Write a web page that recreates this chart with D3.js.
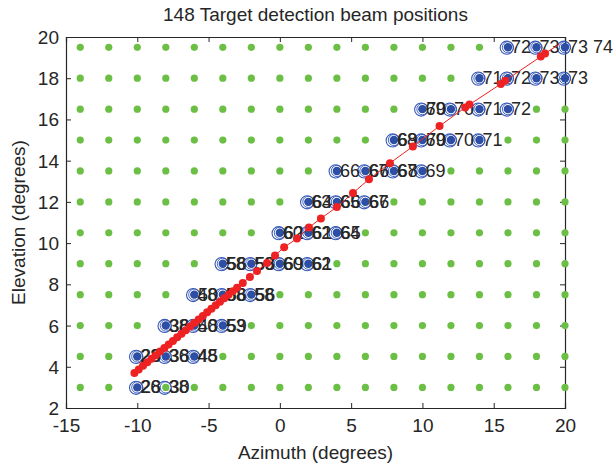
<!DOCTYPE html>
<html>
<head>
<meta charset="utf-8">
<script src="https://cdn.jsdelivr.net/npm/d3@7"></script>
<style>
  body { margin: 0; background: #fff; }
  svg { font-family: "Liberation Sans", Arial, sans-serif; }
</style>
</head>
<body>
<svg id="chart" width="616" height="466"></svg>
<script>
// grid of candidate beam positions (green)
const gridAz = [-14, -12, -10, -8, -6, -4, -2, 0, 2, 4, 6, 8, 10, 12, 14, 16, 18, 20];
const gridEl = [3, 4.5, 6, 7.5, 9, 10.5, 12, 13.5, 15, 16.5, 18, 19.5];

// detection beam positions (blue) and their overlapping labels
const beamAz = [-10, -8, -10, -8, -6, -8, -6, -4, -6, -4, -2, -4, -2, 0, 2,
  0, 2, 4, 2, 4, 6, 4, 6, 8, 10, 8, 10, 12, 14, 10, 12, 14, 16, 14, 16, 18, 20, 16, 18, 20];
const beamEl = [3, 3, 4.5, 4.5, 4.5, 6, 6, 6, 7.5, 7.5, 7.5, 9, 9, 9, 9,
  10.5, 10.5, 10.5, 12, 12, 12, 13.5, 13.5, 13.5, 13.5, 15, 15, 15, 15, 16.5, 16.5, 16.5, 16.5, 18, 18, 18, 18, 19.5, 19.5, 19.5];
const beamFilled = [1, 0, 1, 1, 1, 1, 1, 1, 1, 1, 1, 1, 1, 1, 1,
  1, 1, 1, 1, 1, 1, 1, 1, 1, 1, 1, 1, 1, 1, 1, 1, 1, 1, 1, 1, 1, 1, 1, 1, 1];
const beamLabels = [["26", "28"], ["38", "30"], ["28", "26"], ["36", "38"], ["48", "45"],
  ["38", "36"], ["50", "48"], ["53", "59"], ["48", "50"], ["58", "56"], ["58", "56"],
  ["58", "56"], ["59", "58"], ["60", "69"], ["62", "61"],
  ["60", "62"], ["62", "61"], ["64", "65"], ["63", "64"], ["65", "66"], ["67", "66"],
  ["66"], ["67", "66"], ["67", "68"], ["69"],
  ["68", "69"], ["69", "70"], ["70"], ["71"],
  ["69", "70"], ["70"], ["71"], ["72"],
  ["71"], ["72"], ["73"], ["73"],
  ["72"], ["73"], ["73 74"]];

// target track (red)
const trackAz = [-10.2, -9.9, -9.6, -9.3, -9.0, -8.7, -8.4, -8.1, -7.8, -7.5, -7.2, -6.9, -6.6, -6.3,
  -6.0, -5.7, -5.4, -5.1, -4.8, -4.5, -4.2, -3.9, -3.6, -3.3, -3.0, -2.6, -2.1, -1.6,
  -0.9, -0.34, 0.3, 1.2, 2.04, 2.88, 4.0, 5.13, 6.25, 7.72, 9.33, 11.2, 13.0, 13.3,
  15.5, 15.8, 18.3, 18.6];
const trackEl = [3.70, 3.87, 4.05, 4.22, 4.39, 4.56, 4.74, 4.91, 5.08, 5.25, 5.43, 5.60, 5.77, 5.95,
  6.12, 6.29, 6.46, 6.64, 6.81, 6.98, 7.15, 7.33, 7.50, 7.67, 7.84, 8.07, 8.36, 8.65,
  9.03, 9.40, 9.80, 10.22, 10.76, 11.2, 11.75, 12.43, 13.1, 13.88, 14.69, 15.68, 16.58, 16.72,
  17.72, 17.88, 19.05, 19.2];
const trackEnd = [19.6, 19.65];

const xTicks = [-15, -10, -5, 0, 5, 10, 15, 20];
const yTicks = [2, 4, 6, 8, 10, 12, 14, 16, 18, 20];

const margin = { top: 37, right: 51, bottom: 58, left: 66 };
const width = 616, height = 466;
const innerWidth = width - margin.left - margin.right;
const innerHeight = height - margin.top - margin.bottom;

const svg = d3.select("#chart");
const g = svg.append("g").attr("transform", `translate(${margin.left},${margin.top})`);

const x = d3.scaleLinear().domain([-15, 20]).range([0, innerWidth]);
const y = d3.scaleLinear().domain([2, 20]).range([innerHeight, 0]);

const ink = "#262626";
const fontSize = "19px";

// axes (MATLAB style: ticks inward, box on)
const tickLen = 5;
const xAxis = g.append("g").attr("transform", `translate(0,${innerHeight})`)
  .call(d3.axisBottom(x).tickValues(xTicks).tickSize(-tickLen).tickPadding(10).tickFormat(d => String(d)));
const yAxis = g.append("g")
  .call(d3.axisLeft(y).tickValues(yTicks).tickSize(-tickLen).tickPadding(7).tickFormat(d => String(d)));
const topAxis = g.append("g").call(d3.axisTop(x).tickValues(xTicks).tickSize(-tickLen));
const rightAxis = g.append("g").attr("transform", `translate(${innerWidth},0)`)
  .call(d3.axisRight(y).tickValues(yTicks).tickSize(-tickLen));
topAxis.selectAll(".tick text").remove();
rightAxis.selectAll(".tick text").remove();

g.selectAll(".domain").attr("stroke", ink).attr("stroke-width", 1.2);
g.selectAll(".tick line").attr("stroke", ink);
g.selectAll(".tick text").attr("fill", ink).style("font-size", fontSize)
  .style("font-family", "'Liberation Sans', Arial, sans-serif");
xAxis.selectAll(".tick text").attr("dy", 14);
yAxis.selectAll(".tick text").attr("dy", 6.5);

// green grid
const grid = [];
gridEl.forEach(el => gridAz.forEach(az => grid.push({ az, el })));
g.append("g").selectAll("circle").data(grid).join("circle")
  .attr("cx", d => x(d.az)).attr("cy", d => y(d.el)).attr("r", 3.6)
  .attr("fill", "#6cbf45");

// blue beams
const beams = beamAz.map((az, i) => ({ az, el: beamEl[i], filled: beamFilled[i], labels: beamLabels[i] }));
const bg = g.append("g");
bg.selectAll("circle.ring1").data(beams).join("circle").attr("class", "ring1")
  .attr("cx", d => x(d.az) - 1.2).attr("cy", d => y(d.el) + 0.4).attr("r", 6.6)
  .attr("fill", "none").attr("stroke", "#3557b8").attr("stroke-width", 1.1);
bg.selectAll("circle.ring2").data(beams).join("circle").attr("class", "ring2")
  .attr("cx", d => x(d.az)).attr("cy", d => y(d.el)).attr("r", 5.6)
  .attr("fill", "none").attr("stroke", "#3557b8").attr("stroke-width", 0.9);
bg.selectAll("circle.dot").data(beams.filter(d => d.filled)).join("circle").attr("class", "dot")
  .attr("cx", d => x(d.az)).attr("cy", d => y(d.el)).attr("r", 4.2)
  .attr("fill", "#2c4ea6");

// labels
const lg = g.append("g");
beams.forEach(b => {
  b.labels.forEach((t, k) => {
    lg.append("text")
      .attr("x", x(b.az) + 3 + k * 0.8)
      .attr("y", y(b.el) + 6)
      .attr("fill", ink)
      .style("font-size", "18px")
      .text(t);
  });
});

// red track
const track = trackAz.map((az, i) => ({ az, el: trackEl[i] }));
const line = d3.line().x(d => x(d.az)).y(d => y(d.el));
g.append("path")
  .datum(track.concat([{ az: trackEnd[0], el: trackEnd[1] }]))
  .attr("fill", "none").attr("stroke", "#ee2222").attr("stroke-width", 1)
  .attr("d", line);
g.append("g").selectAll("circle").data(track).join("circle")
  .attr("cx", d => x(d.az)).attr("cy", d => y(d.el)).attr("r", 4)
  .attr("fill", "#ee2222");

// title and axis labels
svg.append("text")
  .attr("x", margin.left + innerWidth / 2).attr("y", 21)
  .attr("text-anchor", "middle").attr("fill", ink).style("font-size", fontSize)
  .text("148 Target detection beam positions");
svg.append("text")
  .attr("x", margin.left + innerWidth / 2).attr("y", 459)
  .attr("text-anchor", "middle").attr("fill", ink).style("font-size", fontSize)
  .text("Azimuth (degrees)");
svg.append("text")
  .attr("transform", `translate(25,${margin.top + innerHeight / 2}) rotate(-90)`)
  .attr("text-anchor", "middle").attr("fill", ink).style("font-size", fontSize)
  .text("Elevation (degrees)");
</script>
</body>
</html>
